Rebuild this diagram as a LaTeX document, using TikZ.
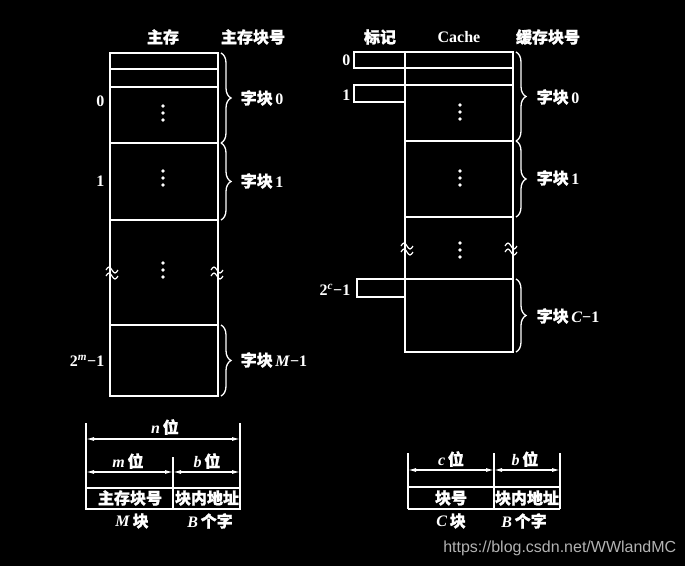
\documentclass[tikz,border=0pt]{standalone}
\usepackage{fontspec}
\setmainfont{Liberation Serif}
\newfontfamily\cjk{Noto Sans CJK SC}[FakeBold=1.3]
\newfontfamily\wmfont{Liberation Sans}
\newcommand\zh[1]{{\cjk #1}}
\usetikzlibrary{decorations.pathreplacing,arrows.meta}
\begin{document}
\begin{tikzpicture}[x=1pt,y=-1pt,line width=1.5pt,draw=white,
  lbl/.style={text=white,inner sep=0pt,font=\fontsize{16}{16}\selectfont\bfseries},
  brc/.style={draw=white,line width=1.3pt,decorate,decoration={brace,amplitude=10pt,aspect=0.5}},
  dim/.style={draw=white,line width=1.2pt,{Latex[length=8pt,width=4pt]}-{Latex[length=8pt,width=4pt]}},
  wavy/.pic={\draw[white,line width=1.2pt] (-6,-2) sin (-3,-5) cos (0,-2) sin (3,1) cos (6,-2);
             \draw[white,line width=1.2pt] (-6,4) sin (-3,1) cos (0,4) sin (3,7) cos (6,4);},
  vdots/.pic={\fill[white] (0,-7) circle (1.9pt) (0,0) circle (1.9pt) (0,7) circle (1.9pt);}]
\fill[black] (0,0) rectangle (685,566);
\useasboundingbox (0,0) rectangle (685,566);

% ---------- main memory ----------
\node[lbl] (hms) at (163,37) {\zh{主存}};
\node[lbl] (hmn) at (253,37) {\zh{主存块号}};
\coordinate (mtl) at (110,53);
\coordinate (mbr) at (218,396);
\draw (mtl) rectangle (mbr);
\foreach \y in {69,87,143,220,325} \draw (110,\y) -- (218,\y);
\coordinate (mb0a) at (221,53);  \coordinate (mb0b) at (221,143);
\coordinate (mb1a) at (221,143); \coordinate (mb1b) at (221,220);
\coordinate (mb2a) at (221,325); \coordinate (mb2b) at (221,396);
\draw[brc] (mb0a) -- (mb0b);
\draw[brc] (mb1a) -- (mb1b);
\draw[brc] (mb2a) -- (mb2b);
\node[lbl,anchor=west] (mw0) at (240,98) {\zh{字块}\,0};
\node[lbl,anchor=west] (mw1) at (240,181) {\zh{字块}\,1};
\node[lbl,anchor=west] (mw2) at (240,360) {\zh{字块}\,\textit{M}−1};
\node[lbl,anchor=east] (ml0) at (105,101) {0};
\node[lbl,anchor=east] (ml1) at (105,181) {1};
\node[lbl,anchor=east] (ml2) at (105,361) {2\textsuperscript{\textit{m}}−1};
\pic at (163,113) {vdots};
\pic at (163,178) {vdots};
\pic at (163,270) {vdots};
\pic at (112,272) {wavy};
\pic at (217,272) {wavy};

% ---------- cache ----------
\node[lbl] (htg) at (380,37) {\zh{标记}};
\node[lbl] (hca) at (459,37) {Cache};
\node[lbl] (hcn) at (548,37) {\zh{缓存块号}};
\draw (405,52) rectangle (513,352);
\foreach \y in {68,85,141,217,279} \draw (405,\y) -- (513,\y);
\draw (354,52) rectangle (405,68);
\draw (354,85) rectangle (405,102);
\draw (357,279) rectangle (405,297);
\node[lbl,anchor=east] (cl0) at (351,60) {0};
\node[lbl,anchor=east] (cl1) at (351,95) {1};
\node[lbl,anchor=east] (cl2) at (351,290) {2\textsuperscript{\textit{c}}−1};
\coordinate (cb0a) at (516,52);  \coordinate (cb0b) at (516,141);
\coordinate (cb1a) at (516,141); \coordinate (cb1b) at (516,217);
\coordinate (cb2a) at (516,279); \coordinate (cb2b) at (516,352);
\draw[brc] (cb0a) -- (cb0b);
\draw[brc] (cb1a) -- (cb1b);
\draw[brc] (cb2a) -- (cb2b);
\node[lbl,anchor=west] (cw0) at (536,97) {\zh{字块}\,0};
\node[lbl,anchor=west] (cw1) at (536,178) {\zh{字块}\,1};
\node[lbl,anchor=west] (cw2) at (536,316) {\zh{字块}\,\textit{C}−1};
\pic at (460,112) {vdots};
\pic at (460,178) {vdots};
\pic at (460,250) {vdots};
\pic at (407,248) {wavy};
\pic at (511,248) {wavy};

% ---------- main memory address ----------
\draw[line width=1.3pt] (86,423) -- (86,510);
\draw[line width=1.3pt] (240,423) -- (240,510);
\draw[line width=1.3pt] (173,457) -- (173,510);
\draw[line width=1.3pt] (86,488) -- (240,488);
\draw[line width=1.3pt] (86,509) -- (240,509);
\coordinate (an1) at (86,439);  \coordinate (an2) at (240,439);
\coordinate (am1) at (86,472);  \coordinate (am2) at (173,472);
\coordinate (ab1) at (173,472); \coordinate (ab2) at (240,472);
\draw[dim] (an1) -- (an2);
\draw[dim] (am1) -- (am2);
\draw[dim] (ab1) -- (ab2);
\node[lbl] (tn) at (165,427) {\textit{n}\,\zh{位}};
\node[lbl] (tm) at (128,461) {\textit{m}\,\zh{位}};
\node[lbl] (tb) at (207,461) {\textit{b}\,\zh{位}};
\node[lbl] (tmb) at (130,498) {\zh{主存块号}};
\node[lbl] (tba) at (207,498) {\zh{块内地址}};
\node[lbl] (tM) at (132,521) {\textit{M}\,\zh{块}};
\node[lbl] (tB) at (210,521) {\textit{B}\,\zh{个字}};

% ---------- cache address ----------
\draw[line width=1.3pt] (408,453) -- (408,509);
\draw[line width=1.3pt] (560,453) -- (560,509);
\draw[line width=1.3pt] (494,453) -- (494,509);
\draw[line width=1.3pt] (408,487) -- (560,487);
\draw[line width=1.3pt] (408,509) -- (560,509);
\coordinate (ac1) at (408,470);  \coordinate (ac2) at (494,470);
\coordinate (ad1) at (494,470);  \coordinate (ad2) at (560,470);
\draw[dim] (ac1) -- (ac2);
\draw[dim] (ad1) -- (ad2);
\node[lbl] (tc) at (451,459) {\textit{c}\,\zh{位}};
\node[lbl] (tb2) at (525,459) {\textit{b}\,\zh{位}};
\node[lbl] (tcb) at (451,498) {\zh{块号}};
\node[lbl] (tba2) at (527,498) {\zh{块内地址}};
\node[lbl] (tC) at (451,521) {\textit{C}\,\zh{块}};
\node[lbl] (tB2) at (524,521) {\textit{B}\,\zh{个字}};

% ---------- watermark ----------
\node[inner sep=0pt,text=black!30!white,font=\wmfont\fontsize{16}{16}\selectfont,anchor=east] (wm) at (677,548) {https://blog.csdn.net/WWlandMC};
\end{tikzpicture}
\end{document}
